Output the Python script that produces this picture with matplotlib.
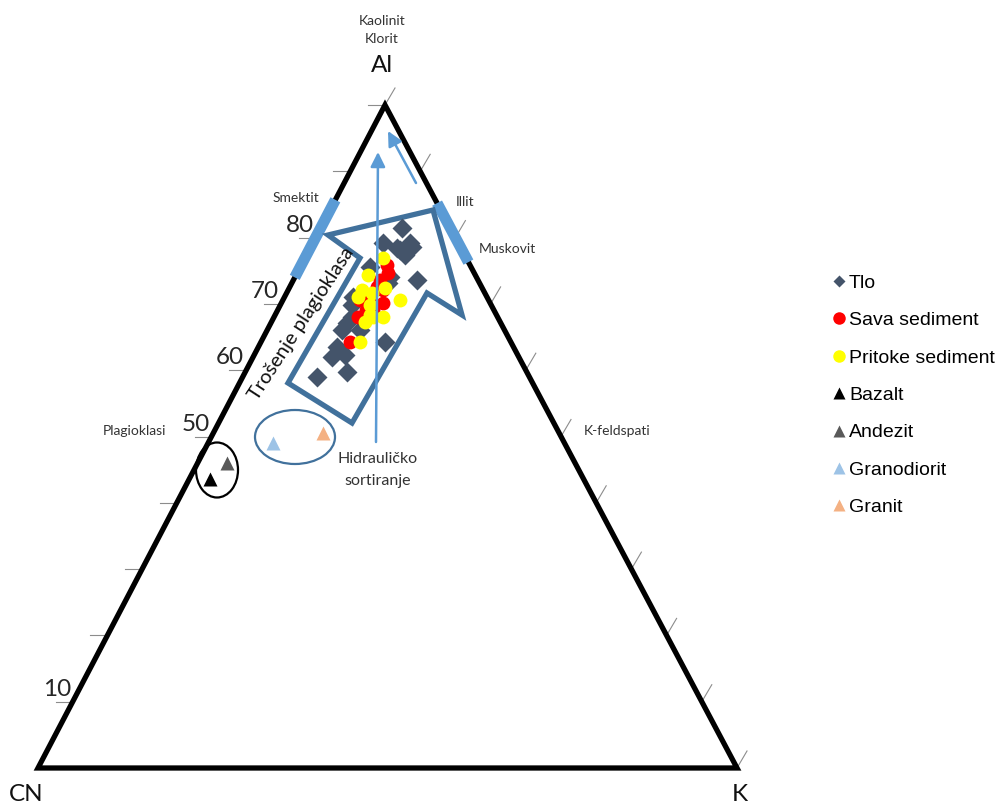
import matplotlib
matplotlib.use("Agg")
import matplotlib.pyplot as plt
from matplotlib.patches import Polygon, Ellipse
from matplotlib.lines import Line2D

# ---------------- data (percent: Al, K ; CN = 100 - Al - K) ----------------
tlo_al = [81.4, 79.2, 79.2, 78.1, 77.4, 75.6, 73.6, 73.2, 69.8, 67.1, 66.1, 63.5,
          62.0, 62.3, 59.0, 59.7, 64.3, 66.1, 68.0, 71.0, 74.1, 78.6, 78.4]
tlo_k = [11.7, 10.0, 13.9, 13.0, 14.1, 10.0, 17.7, 13.7, 10.3, 10.9, 10.7, 11.3,
         11.3, 13.0, 10.6, 14.6, 17.7, 13.2, 11.2, 9.8, 13.6, 14.5, 12.4]

sava_al = [75.9, 74.7, 72.1, 70.1, 70.6, 68.0, 64.3, 69.1, 70.6, 72.5, 73.6, 69.1]
sava_k = [12.2, 13.0, 13.6, 14.6, 11.0, 12.0, 12.7, 13.6, 12.4, 12.5, 12.4, 12.6]

pritoke_al = [76.9, 74.4, 72.1, 71.0, 72.4, 71.6, 69.8, 68.0, 67.3, 68.0, 70.6, 64.3, 68.3]
pritoke_k = [11.2, 10.3, 10.6, 10.5, 13.7, 12.2, 12.8, 14.2, 13.4, 15.6, 16.7, 14.1, 13.6]

rock_names = ["Bazalt", "Andezit", "Granodiorit", "Granit"]
rock_al = [43.6, 46.0, 49.0, 50.5]
rock_k = [3.0, 4.2, 9.3, 15.7]

left_tick_labels = {80: "80", 70: "70", 60: "60", 50: "50", 10: "10"}

# ---------------- layout ----------------
V_CN = (38.0, 768.0)
V_K = (737.0, 768.0)
V_A = (385.0, 105.0)


def tern(al, k):
    cn = 100.0 - al - k
    x = (al * V_A[0] + k * V_K[0] + cn * V_CN[0]) / 100.0
    y = (al * V_A[1] + k * V_K[1] + cn * V_CN[1]) / 100.0
    return x, y


def tern_list(als, ks):
    pts = [tern(a, k) for a, k in zip(als, ks)]
    return [p[0] for p in pts], [p[1] for p in pts]


CAL = ["Lato", "DejaVu Sans"]
ARIAL = ["Liberation Sans", "DejaVu Sans"]

fig = plt.figure(figsize=(10, 8.05), dpi=100)
ax = fig.add_axes([0, 0, 1, 1])
ax.set_xlim(0, 1000)
ax.set_ylim(805, 0)
ax.axis("off")

# ticks
for a in range(10, 101, 10):
    x, y = tern(a, 0)
    ax.plot([x - 17, x], [y, y], color="#8c8c8c", lw=0.8, zorder=1)
for a in range(0, 101, 10):
    x, y = tern(a, 100 - a)
    ax.plot([x, x + 10], [y, y - 17], color="#8c8c8c", lw=0.8, zorder=1)

for a, lab in left_tick_labels.items():
    x, y = tern(a, 0)
    ax.text(x - 16, y - 2, lab, ha="center", va="bottom", fontsize=17.5,
            family=CAL, color="#262626")

# triangle
tri = Polygon([V_CN, V_K, V_A], closed=True, fill=False, ec="black", lw=3.8,
              joinstyle="miter", zorder=2)
ax.add_patch(tri)

# mineral bars
bar_c = "#5B9BD5"
p1 = tern(74.0, 0); p2 = tern(85.7, 0)
ax.plot([p1[0], p2[0]], [p1[1], p2[1]], color=bar_c, lw=8, solid_capstyle="butt", zorder=3)
p1 = tern(76.3, 23.7); p2 = tern(85.2, 14.8)
ax.plot([p1[0], p2[0]], [p1[1], p2[1]], color=bar_c, lw=8, solid_capstyle="butt", zorder=3)

# big hollow arrow
arrow_poly = Polygon([(288, 383), (360, 258), (328, 235), (433, 210), (462, 315),
                      (427, 293), (352, 423)], closed=True, fill=False,
                     ec="#41719C", lw=3.8, joinstyle="miter", zorder=3)
ax.add_patch(arrow_poly)

# ellipses
ax.add_patch(Ellipse((295, 437), 80, 54, fill=False, ec="#41719C", lw=1.6, zorder=3))
ax.add_patch(Ellipse((217, 470), 42, 55, fill=False, ec="black", lw=1.6, zorder=3))

# data points
x, y = tern_list(tlo_al, tlo_k)
ax.plot(x, y, ls="none", marker="D", ms=10.5, color="#44546A", mec="none", zorder=4)
x, y = tern_list(sava_al, sava_k)
ax.plot(x, y, ls="none", marker="o", ms=10, color="#FF0000", mec="none", zorder=5)
x, y = tern_list(pritoke_al, pritoke_k)
ax.plot(x, y, ls="none", marker="o", ms=10, color="#FFFF00", mec="none", zorder=6)

rock_colors = ["#000000", "#595959", "#9DC3E6", "#F4B183"]
for name, a, k, c in zip(rock_names, rock_al, rock_k, rock_colors):
    xx, yy = tern(a, k)
    ax.plot([xx], [yy], ls="none", marker="^", ms=10, color=c, mec="none", zorder=6)

# thin arrows
ax.annotate("", xy=(378, 152), xytext=(376, 442),
            arrowprops=dict(arrowstyle="-|>", color=bar_c, lw=1.8, mutation_scale=22,
                            shrinkA=0, shrinkB=0), zorder=7)
ax.annotate("", xy=(388, 131), xytext=(416, 183),
            arrowprops=dict(arrowstyle="-|>", color=bar_c, lw=1.8, mutation_scale=22,
                            shrinkA=0, shrinkB=0), zorder=7)

# texts
tc = "#333333"
ax.text(382, 21, "Kaolinit", ha="center", va="center", fontsize=10, family=CAL, color=tc)
ax.text(382, 39, "Klorit", ha="center", va="center", fontsize=10, family=CAL, color=tc)
ax.text(382, 66, "Al", ha="center", va="center", fontsize=17.5, family=CAL, color="#111111")
ax.text(26, 794, "CN", ha="center", va="center", fontsize=17.5, family=CAL, color="#111111")
ax.text(740, 794, "K", ha="center", va="center", fontsize=17.5, family=CAL, color="#111111")
ax.text(296, 198, "Smektit", ha="center", va="center", fontsize=10, family=CAL, color=tc)
ax.text(465, 202, "Illit", ha="center", va="center", fontsize=10, family=CAL, color=tc)
ax.text(507, 249, "Muskovit", ha="center", va="center", fontsize=10, family=CAL, color=tc)
ax.text(134, 431, "Plagioklasi", ha="center", va="center", fontsize=10, family=CAL, color=tc)
ax.text(617, 431, "K-feldspati", ha="center", va="center", fontsize=10, family=CAL, color=tc)
ax.text(378, 459, "Hidrauličko", ha="center", va="center", fontsize=11.5, family=CAL, color=tc)
ax.text(378, 481, "sortiranje", ha="center", va="center", fontsize=11.5, family=CAL, color=tc)
ax.text(301, 324, "Trošenje plagioklasa", ha="center", va="center", fontsize=14.5,
        family=CAL, color="#111111", rotation=57, rotation_mode="anchor")

# legend
handles = [
    Line2D([], [], ls="none", marker="D", ms=6, color="#44546A", mec="none"),
    Line2D([], [], ls="none", marker="o", ms=9, color="#FF0000", mec="none"),
    Line2D([], [], ls="none", marker="o", ms=9, color="#FFFF00", mec="none"),
] + [Line2D([], [], ls="none", marker="^", ms=8, color=c, mec="none") for c in rock_colors]
labels = ["Tlo", "Sava sediment", "Pritoke sediment"] + rock_names
fig.legend(handles, labels, loc="upper left", bbox_to_anchor=(833 / 1000, 1 - 274 / 805),
           frameon=False, borderpad=0, borderaxespad=0, handlelength=0.6,
           handletextpad=0.22, labelspacing=1.02,
           prop={"family": ARIAL, "size": 14})

fig.savefig("out.png", dpi=100)
